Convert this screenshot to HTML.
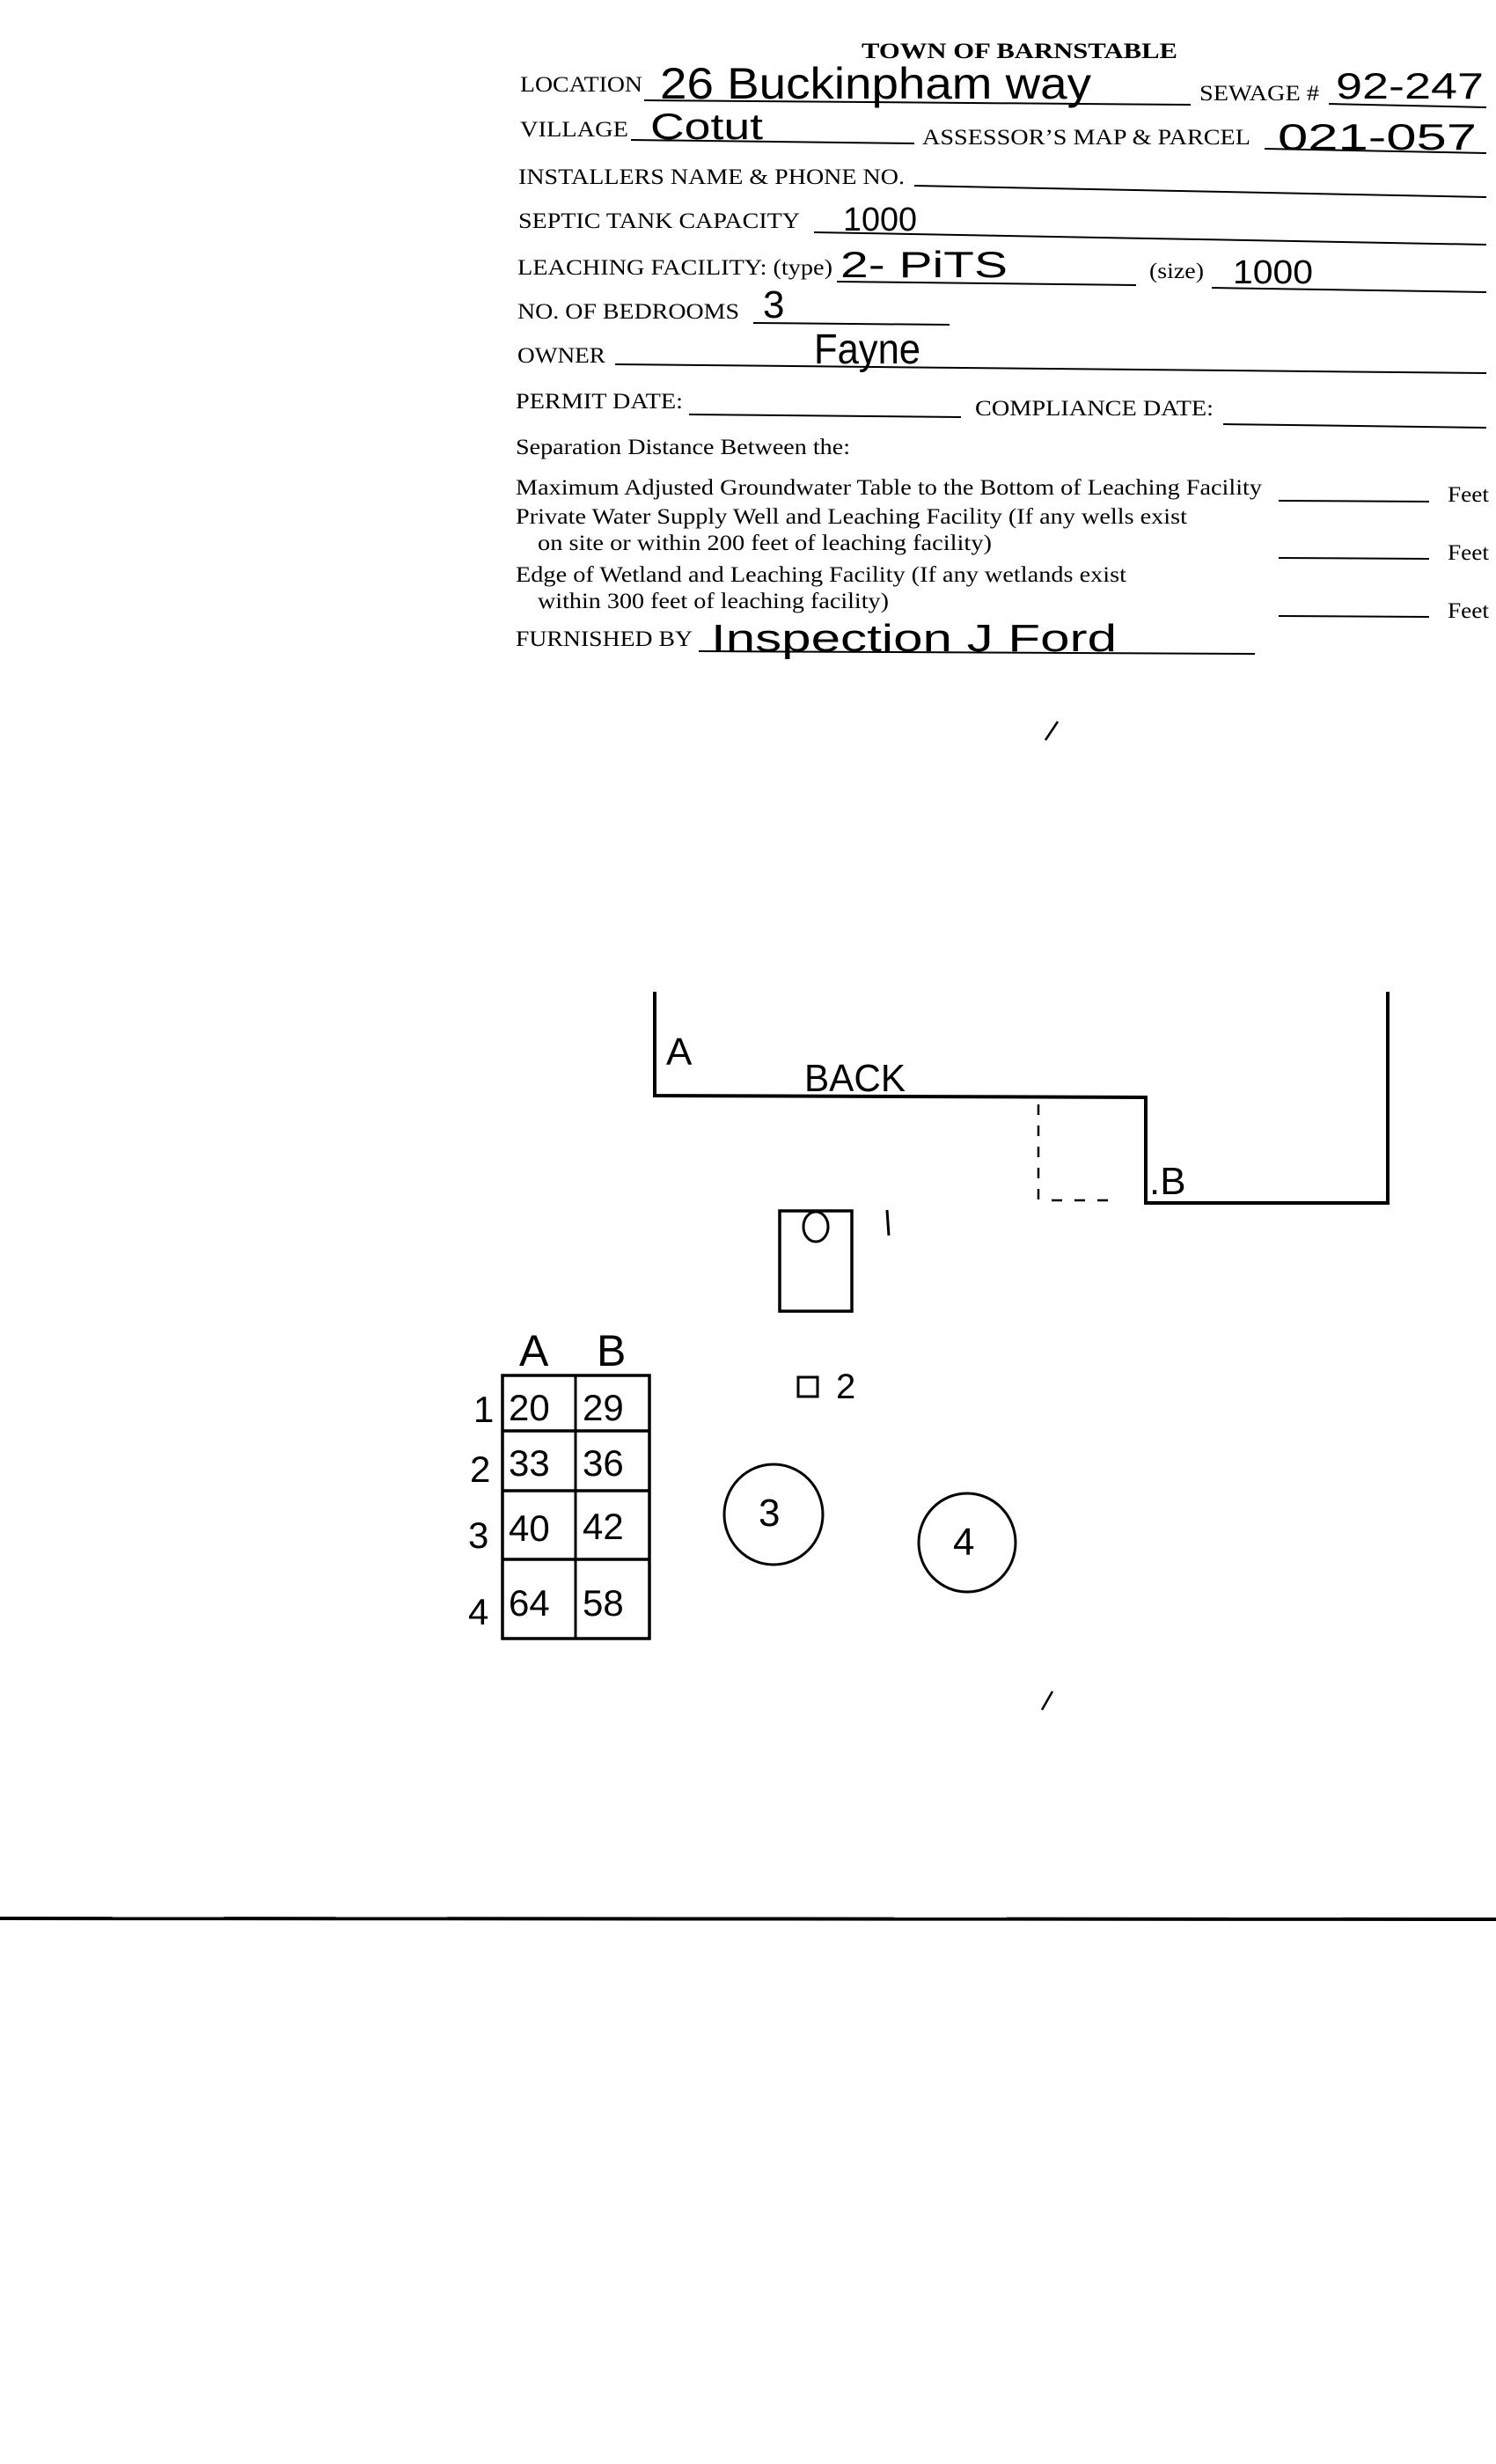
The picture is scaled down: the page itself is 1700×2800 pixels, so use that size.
<!DOCTYPE html>
<html><head><meta charset="utf-8"><style>
html,body{margin:0;padding:0;background:#fff;}
svg{display:block;}
.f{font-family:"Liberation Serif",serif;font-size:25px;fill:#000;}
.h{font-family:"Liberation Sans",sans-serif;fill:#000;font-weight:normal;}
</style></head><body>
<svg width="1700" height="2800" viewBox="0 0 1700 2800" xmlns="http://www.w3.org/2000/svg">
<rect width="1700" height="2800" fill="#fff"/>
<g stroke="#000" stroke-width="2" fill="none">
<line x1="732" y1="114" x2="1353" y2="119"/>
<line x1="1510" y1="118" x2="1689" y2="122"/>
<line x1="717" y1="159" x2="1039" y2="163"/>
<line x1="1437" y1="169" x2="1689" y2="174"/>
<line x1="1039" y1="211" x2="1689" y2="224"/>
<line x1="925" y1="264" x2="1689" y2="278"/>
<line x1="951" y1="320" x2="1291" y2="324"/>
<line x1="1377" y1="327" x2="1689" y2="332"/>
<line x1="856" y1="367" x2="1079" y2="369"/>
<line x1="699" y1="414" x2="1689" y2="424"/>
<line x1="783" y1="471" x2="1092" y2="474"/>
<line x1="1390" y1="482" x2="1689" y2="486"/>
<line x1="1453" y1="569" x2="1624" y2="570"/>
<line x1="1453" y1="634" x2="1624" y2="635"/>
<line x1="1453" y1="700" x2="1624" y2="701"/>
<line x1="794" y1="740" x2="1426" y2="743"/>
</g>
<text class="f" x="979" y="66" font-weight="bold" font-size="28" textLength="359" lengthAdjust="spacingAndGlyphs">TOWN OF BARNSTABLE</text>
<text class="f" x="591" y="104" textLength="139" lengthAdjust="spacingAndGlyphs">LOCATION</text>
<text class="f" x="1363" y="114" textLength="136" lengthAdjust="spacingAndGlyphs">SEWAGE #</text>
<text class="f" x="591" y="155" textLength="123" lengthAdjust="spacingAndGlyphs">VILLAGE</text>
<text class="f" x="1048" y="164" textLength="373" lengthAdjust="spacingAndGlyphs">ASSESSOR’S MAP &amp; PARCEL</text>
<text class="f" x="589" y="209" textLength="439" lengthAdjust="spacingAndGlyphs">INSTALLERS NAME &amp; PHONE NO.</text>
<text class="f" x="589" y="259" textLength="320" lengthAdjust="spacingAndGlyphs">SEPTIC TANK CAPACITY</text>
<text class="f" x="588" y="312" textLength="358" lengthAdjust="spacingAndGlyphs">LEACHING FACILITY: (type)</text>
<text class="f" x="1306" y="316" textLength="62" lengthAdjust="spacingAndGlyphs">(size)</text>
<text class="f" x="588" y="362" textLength="252" lengthAdjust="spacingAndGlyphs">NO. OF BEDROOMS</text>
<text class="f" x="588" y="412" textLength="100" lengthAdjust="spacingAndGlyphs">OWNER</text>
<text class="f" x="586" y="464" textLength="190" lengthAdjust="spacingAndGlyphs">PERMIT DATE:</text>
<text class="f" x="1108" y="472" textLength="271" lengthAdjust="spacingAndGlyphs">COMPLIANCE DATE:</text>
<text class="f" x="586" y="516" textLength="380" lengthAdjust="spacingAndGlyphs">Separation Distance Between the:</text>
<text class="f" x="586" y="562" textLength="848" lengthAdjust="spacingAndGlyphs">Maximum Adjusted Groundwater Table to the Bottom of Leaching Facility</text>
<text class="f" x="1645" y="570" textLength="47" lengthAdjust="spacingAndGlyphs">Feet</text>
<text class="f" x="586" y="595" textLength="763" lengthAdjust="spacingAndGlyphs">Private Water Supply Well and Leaching Facility (If any wells exist</text>
<text class="f" x="611" y="625" textLength="516" lengthAdjust="spacingAndGlyphs">on site or within 200 feet of leaching facility)</text>
<text class="f" x="1645" y="636" textLength="47" lengthAdjust="spacingAndGlyphs">Feet</text>
<text class="f" x="586" y="661" textLength="694" lengthAdjust="spacingAndGlyphs">Edge of Wetland and Leaching Facility (If any wetlands exist</text>
<text class="f" x="611" y="691" textLength="399" lengthAdjust="spacingAndGlyphs">within 300 feet of leaching facility)</text>
<text class="f" x="1645" y="702" textLength="47" lengthAdjust="spacingAndGlyphs">Feet</text>
<text class="f" x="586" y="734" textLength="201" lengthAdjust="spacingAndGlyphs">FURNISHED BY</text>
<!-- handwriting -->
<text class="h" x="750" y="112" font-size="50" textLength="490" lengthAdjust="spacingAndGlyphs">26 Buckinpham way</text>
<text class="h" x="1518" y="112" font-size="42" textLength="168" lengthAdjust="spacingAndGlyphs">92-247</text>
<text class="h" x="739" y="158" font-size="42" textLength="128" lengthAdjust="spacingAndGlyphs">Cotut</text>
<text class="h" x="1452" y="170" font-size="42" textLength="226" lengthAdjust="spacingAndGlyphs">021-057</text>
<text class="h" x="958" y="262" font-size="38" textLength="84" lengthAdjust="spacingAndGlyphs">1000</text>
<text class="h" x="955" y="315" font-size="42" textLength="190" lengthAdjust="spacingAndGlyphs">2- PiTS</text>
<text class="h" x="1401" y="322" font-size="38" textLength="91" lengthAdjust="spacingAndGlyphs">1000</text>
<text class="h" x="867" y="361" font-size="44">3</text>
<text class="h" x="925" y="413" font-size="48" textLength="121" lengthAdjust="spacingAndGlyphs">Fayne</text>
<text class="h" x="808" y="740" font-size="44" textLength="461" lengthAdjust="spacingAndGlyphs">Inspection  J Ford</text>
<g stroke="#000" stroke-width="2.5" fill="none">
<line x1="1188" y1="841" x2="1202" y2="820"/>
<line x1="1184" y1="1943" x2="1196" y2="1922"/>
<!-- building -->
<polyline points="744,1127 744,1245 1302,1247 1302,1367 1577,1367 1577,1127" stroke-width="4"/>
<line x1="1180" y1="1255" x2="1180" y2="1365" stroke-dasharray="12,12"/>
<line x1="1195" y1="1364" x2="1272" y2="1364" stroke-dasharray="12,14"/>
<!-- tank -->
<rect x="886" y="1376" width="82" height="114" stroke-width="3.5"/>
<ellipse cx="927" cy="1394" rx="14" ry="17" stroke-width="3"/>
<line x1="1008" y1="1375" x2="1010" y2="1404" stroke-width="3"/>
<rect x="907" y="1565" width="22" height="22" stroke-width="3"/>
<ellipse cx="879" cy="1721" rx="56" ry="57" stroke-width="3"/>
<ellipse cx="1099" cy="1753" rx="55" ry="56" stroke-width="3"/>
<!-- table -->
<rect x="571" y="1563" width="167" height="299" stroke-width="3.5"/>
<line x1="654" y1="1563" x2="654" y2="1862" stroke-width="3"/>
<line x1="571" y1="1626" x2="738" y2="1626" stroke-width="3.5"/>
<line x1="571" y1="1694" x2="738" y2="1694" stroke-width="3.5"/>
<line x1="571" y1="1772" x2="738" y2="1772" stroke-width="3.5"/>
<line x1="0" y1="2180" x2="1700" y2="2181" stroke-width="4"/>
</g>
<text class="h" x="757" y="1210" font-size="44">A</text>
<text class="h" x="914" y="1240" font-size="44" textLength="115" lengthAdjust="spacingAndGlyphs">BACK</text>
<text class="h" x="1306" y="1357" font-size="44">.B</text>
<text class="h" x="950" y="1589" font-size="40">2</text>
<text class="h" x="862" y="1734" font-size="44">3</text>
<text class="h" x="1083" y="1767" font-size="44">4</text>
<text class="h" x="590" y="1552" font-size="50">A</text>
<text class="h" x="678" y="1552" font-size="50">B</text>
<g class="h" font-size="42">
<text x="538" y="1616">1</text><text x="578" y="1614">20</text><text x="662" y="1614">29</text>
<text x="534" y="1684">2</text><text x="578" y="1677">33</text><text x="662" y="1677">36</text>
<text x="532" y="1759">3</text><text x="578" y="1751">40</text><text x="662" y="1749">42</text>
<text x="532" y="1846">4</text><text x="578" y="1836">64</text><text x="662" y="1836">58</text>
</g>
</svg>
</body></html>
